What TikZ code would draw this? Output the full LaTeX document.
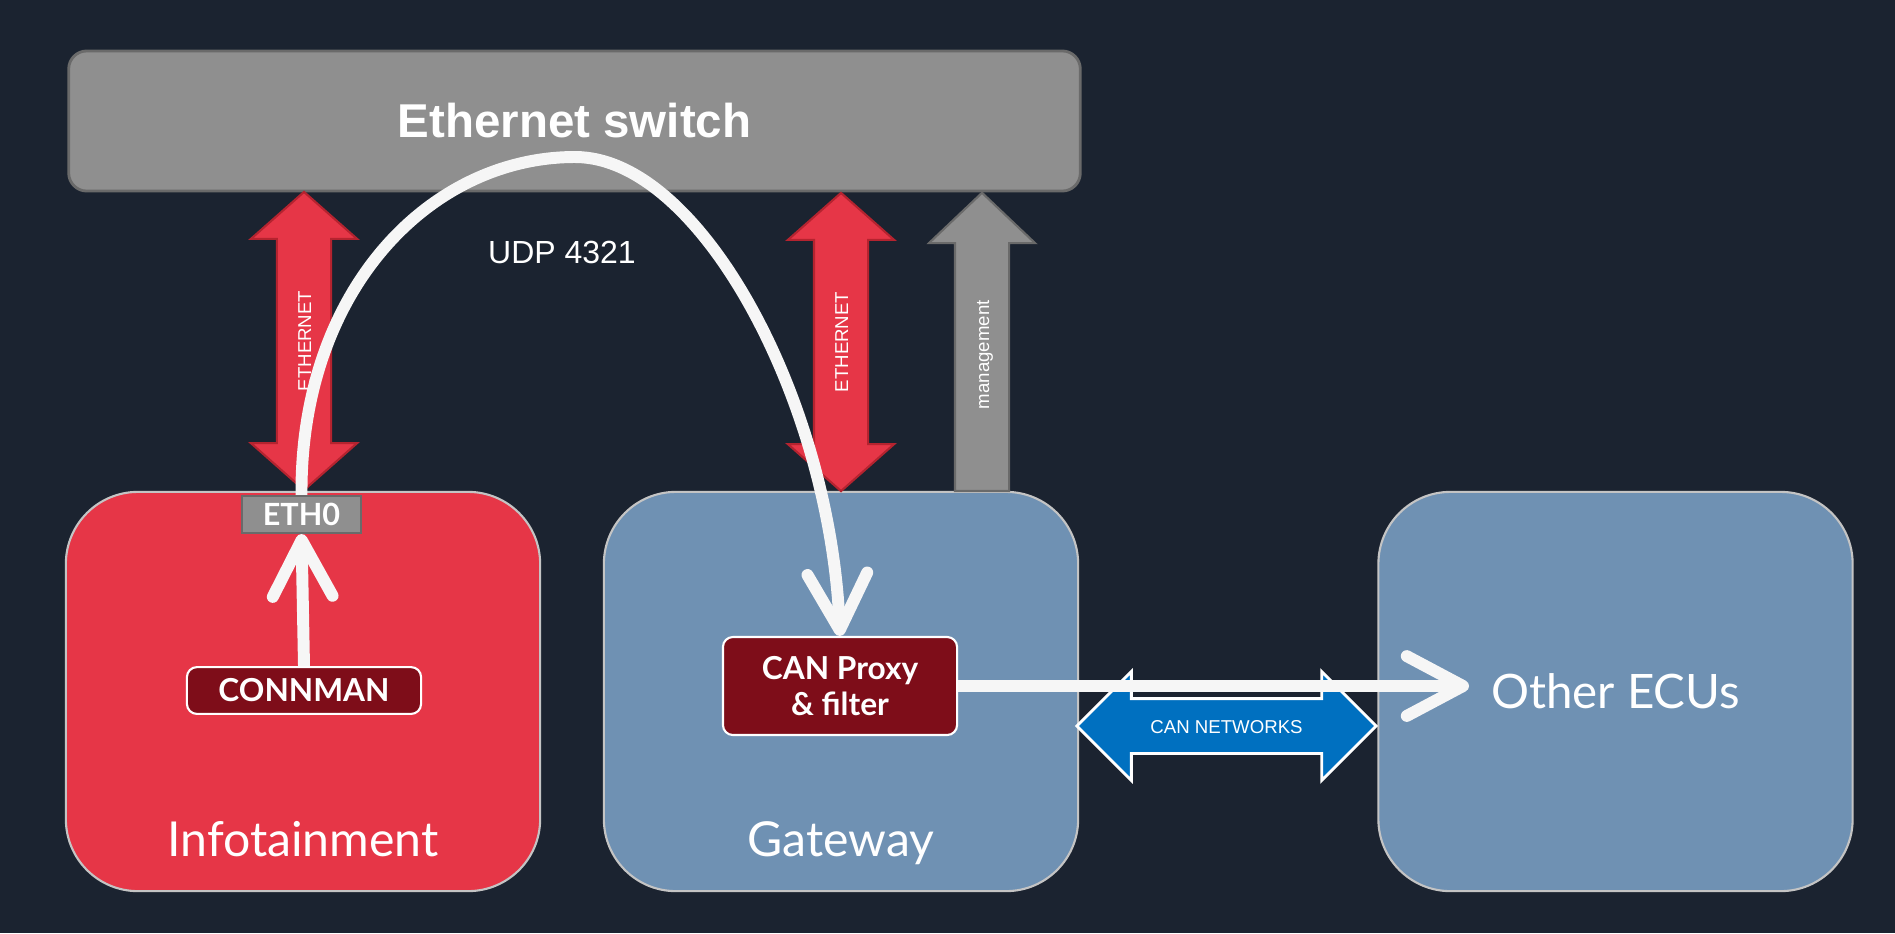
\documentclass[tikz,border=0pt]{standalone}
\usepackage{fontspec}
\setmainfont{Liberation Sans}
\newfontfamily\lato{Lato}
\usetikzlibrary{arrows.meta,shapes.arrows,positioning}

\definecolor{bgc}{HTML}{1B2330}
\definecolor{swfill}{HTML}{8F8F8F}
\definecolor{swline}{HTML}{6A6A6A}
\definecolor{infored}{HTML}{E63647}
\definecolor{redline}{HTML}{B5232F}
\definecolor{gwblue}{HTML}{6F91B3}
\definecolor{boxline}{HTML}{C4C4C4}
\definecolor{procred}{HTML}{7E0D19}
\definecolor{canblue}{HTML}{0070C0}
\definecolor{flowc}{HTML}{F6F6F6}

\tikzstyle{ecu}=[rectangle,rounded corners=0.72cm,draw=boxline,line width=0.6pt,minimum width=4.74cm,minimum height=3.99cm,text=white,font=\lato\fontsize{13.5}{16}\selectfont]
\tikzstyle{ecutitle}=[text=white,font=\lato\fontsize{13.7}{16}\selectfont,inner sep=0pt]
\tikzstyle{proc}=[rectangle,rounded corners=0.1cm,draw=white,fill=procred,line width=0.6pt,text=white,minimum width=2.34cm,align=center,font=\lato\bfseries\fontsize{9}{10.2}\selectfont]
\tikzstyle{port}=[rectangle,draw=swline,fill=swfill,line width=0.6pt,minimum width=1.19cm,minimum height=0.37cm,inner sep=0pt,text=white,font=\lato\bfseries\fontsize{8.7}{10}\selectfont]
\tikzstyle{ethlink}=[double arrow,rotate=90,fill=infored,draw=redline,line width=0.6pt,double arrow head extend=0.26cm,double arrow tip angle=97,minimum height=2.98cm,inner xsep=0pt,inner ysep=0pt,text height=0.33cm,text depth=0.19cm,text=white,font=\fontsize{5.3}{6}\selectfont]
\tikzstyle{mgmtlink}=[single arrow,rotate=90,fill=swfill,draw=swline,line width=0.6pt,single arrow head extend=0.26cm,single arrow tip angle=93,minimum height=2.98cm,inner xsep=0pt,inner ysep=0pt,text height=0.33cm,text depth=0.19cm,text=white,font=\fontsize{5.3}{6}\selectfont]
\tikzstyle{canlink}=[double arrow,fill=canblue,draw=white,line width=0.8pt,double arrow head extend=0.27cm,double arrow tip angle=90,minimum height=2.99cm,inner xsep=0pt,inner ysep=0pt,text height=0.33cm,text depth=0.19cm,text=white,font=\fontsize{5.3}{6}\selectfont]
\tikzstyle{flow}=[draw=flowc,line width=3.4pt,-{Straight Barb[round,length=16pt,width=17pt]}]

\begin{document}
\begin{tikzpicture}[x=0.01cm,y=-0.01cm]
  \fill[bgc] (0,0) rectangle (1895,933);
  \useasboundingbox (0,0) rectangle (1895,933);
  % switch and ECUs
  \node[rectangle,rounded corners=0.18cm,draw=swline,fill=swfill,line width=0.8pt,minimum width=10.11cm,minimum height=1.4cm,text=white,font=\bfseries\fontsize{13.5}{16}\selectfont] (switch) at (574.5,121) {Ethernet switch};
  \node[ecu,fill=infored] (info) at (303,691.5) {};
  \node[ecu,fill=gwblue] (gateway) at (841,691.5) {};
  \node[ecu,fill=gwblue] (ecus) at (1615.5,691.5) {Other ECUs};
  \node[ecutitle,anchor=base] (infolbl) at (303,856) {Infotainment};
  \node[ecutitle,anchor=base] (gwlbl) at (841,856) {Gateway};
  % inner blocks
  \node[port] (eth0) at (301.5,514.5) {ETH0};
  \node[proc,minimum height=0.45cm] (connman) at (304,690.5) {CONNMAN};
  \node[proc,minimum height=0.98cm] (proxy) at (840,686) {CAN Proxy\\\& filter};
  % links
  \node[ethlink] (ethleft) at (304,341) {ETHERNET};
  \node[ethlink] (ethmid) at (841,342) {ETHERNET};
  \node[mgmtlink,anchor=tail] (mgmt) at (982,492) {management};
  \node[canlink] (can) at (1226.5,726) {CAN NETWORKS};
  \node[text=white,font=\fontsize{9.1}{11}\selectfont] (udp) at (562,252) {UDP 4321};
  \coordinate (ecusin) at (1469,686);
  % flows
  \draw[flow] (connman.north)--(eth0.south);
  \draw[flow] (proxy.east)--(ecusin);
  \draw[flow] (eth0.north) .. controls (300,290) and (430,157) .. (575,157) .. controls (700,157) and (830,400) .. (proxy.north);
\end{tikzpicture}
\end{document}
